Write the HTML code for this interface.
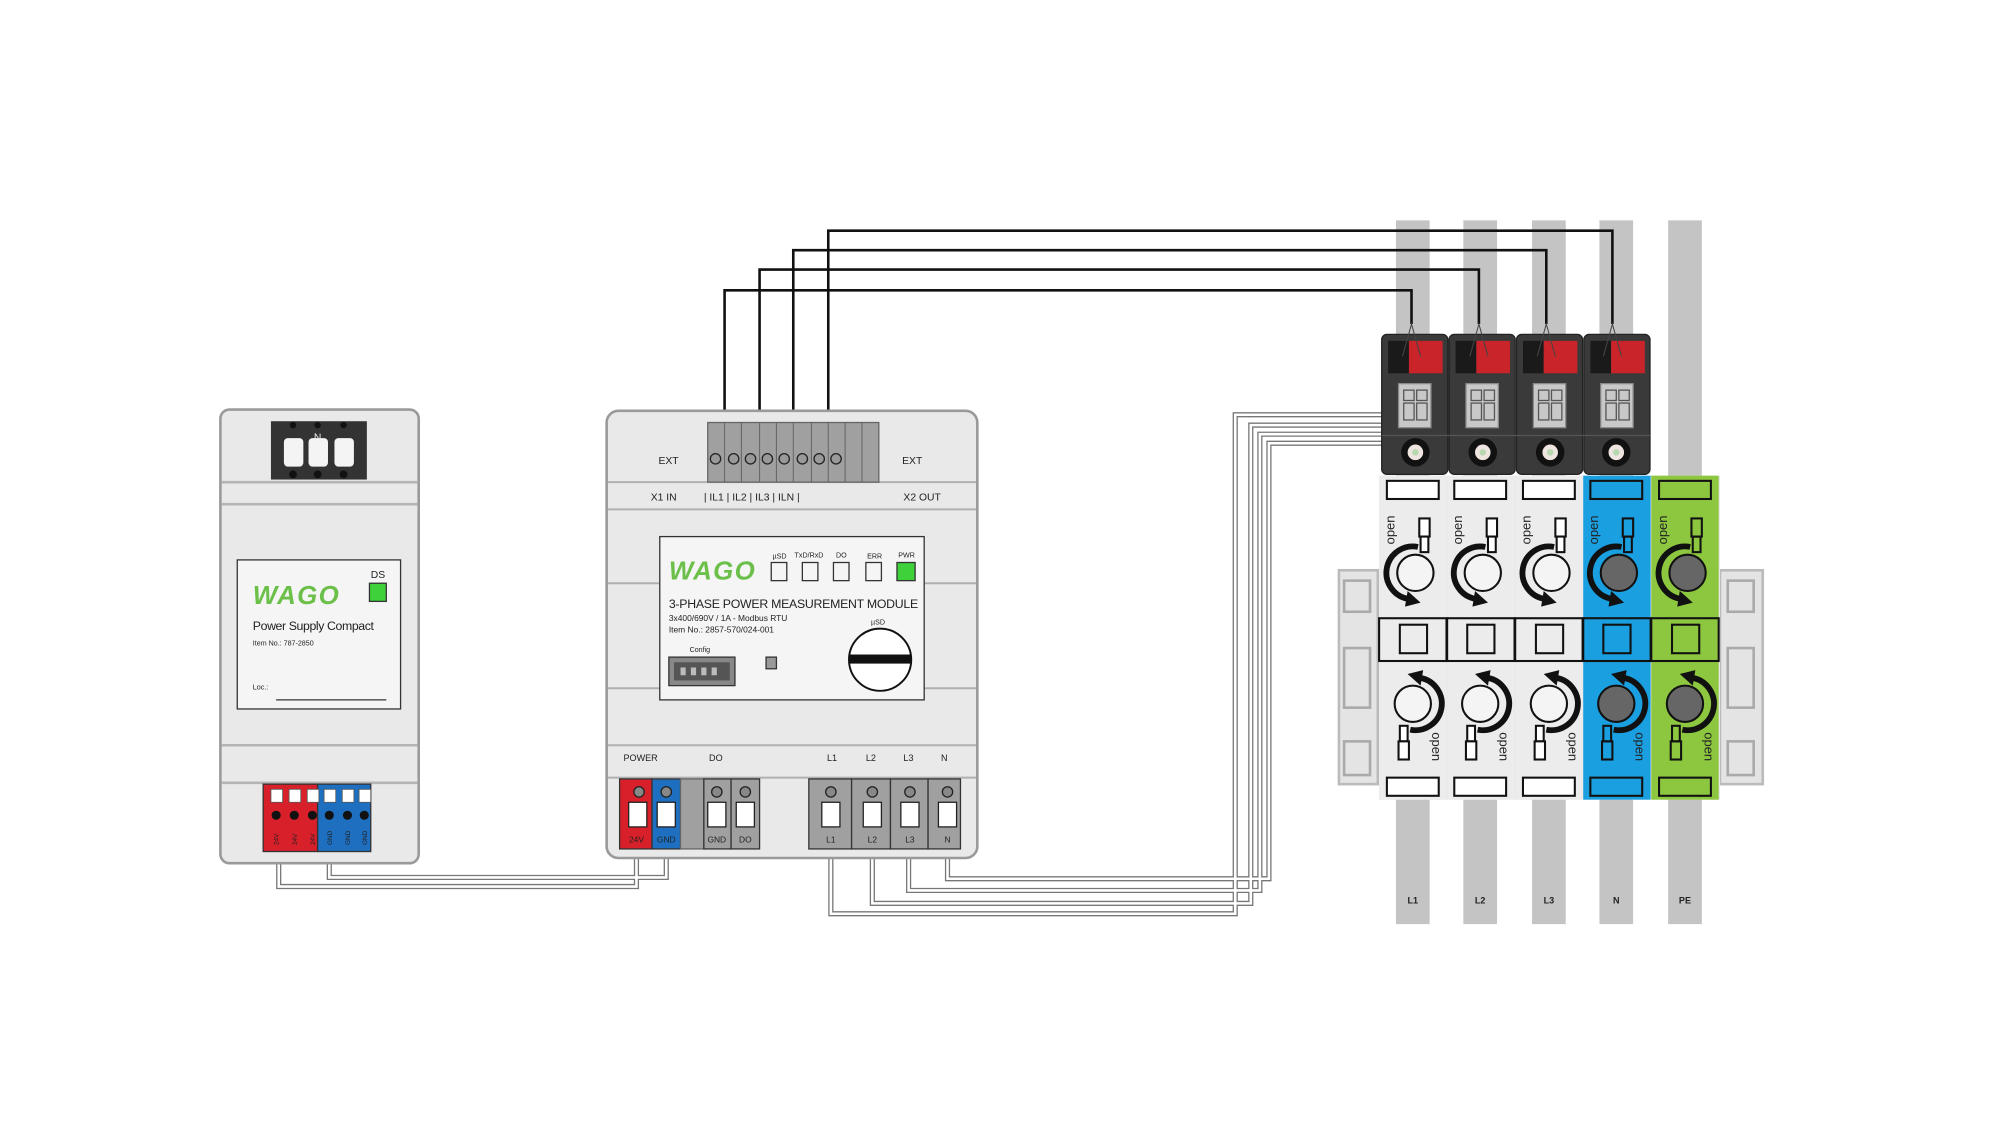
<!DOCTYPE html>
<html><head><meta charset="utf-8"><style>
html,body{margin:0;padding:0;background:#fff;}
svg{display:block;}
text{font-family:"Liberation Sans",Arial,sans-serif;fill:#222;}
</style></head><body>
<svg width="2000" height="1125" viewBox="0 0 1543 868" xmlns="http://www.w3.org/2000/svg">
<rect width="1543" height="868" fill="#fff"/>

<!-- Rails -->
<g fill="#c4c4c4">
<rect x="1077" y="170" width="26" height="543"/>
<rect x="1129" y="170" width="26" height="543"/>
<rect x="1182" y="170" width="26" height="543"/>
<rect x="1234" y="170" width="26" height="543"/>
<rect x="1287" y="170" width="26" height="543"/>
</g>
<g font-size="7" font-weight="bold" text-anchor="middle">
<text x="1090" y="697">L1</text><text x="1142" y="697">L2</text><text x="1195" y="697">L3</text><text x="1247" y="697">N</text><text x="1300" y="697">PE</text>
</g>

<!-- Gray double wires -->
<g fill="none" stroke="#777" stroke-width="4" stroke-linejoin="miter">
<polyline points="215,657 215,684 491,684 491,655"/>
<polyline points="254,657 254,677 514,677 514,655"/>
<polyline points="641,655 641,705 953,705 953,320 1090,320"/>
<polyline points="673,655 673,697 965,697 965,328 1090,328"/>
<polyline points="701,655 701,687 972,687 972,335 1090,335"/>
<polyline points="731,655 731,678 979,678 979,342 1090,342"/>
</g>
<g fill="none" stroke="#fff" stroke-width="2">
<polyline points="215,657 215,684 491,684 491,655"/>
<polyline points="254,657 254,677 514,677 514,655"/>
<polyline points="641,655 641,705 953,705 953,320 1090,320"/>
<polyline points="673,655 673,697 965,697 965,328 1090,328"/>
<polyline points="701,655 701,687 972,687 972,335 1090,335"/>
<polyline points="731,655 731,678 979,678 979,342 1090,342"/>
</g>

<!-- End plates -->
<g fill="#e4e4e4" stroke="#bbb" stroke-width="2">
<rect x="1033" y="440" width="30" height="165"/>
<rect x="1327" y="440" width="33" height="165"/>
</g>
<g fill="none" stroke="#aaa" stroke-width="2">
<rect x="1037" y="448" width="20" height="24"/><rect x="1037" y="500" width="20" height="46"/><rect x="1037" y="572" width="20" height="26"/>
<rect x="1333" y="448" width="20" height="24"/><rect x="1333" y="500" width="20" height="46"/><rect x="1333" y="572" width="20" height="26"/>
</g>

<!-- Terminal blocks -->
<g id="tb">
<rect x="1064" y="367" width="263" height="250" fill="#e6e6e6"/>
<rect x="1064" y="367" width="52" height="250" fill="#ececec"/>
<rect x="1116.5" y="367" width="52" height="250" fill="#ececec"/>
<rect x="1169" y="367" width="52" height="250" fill="#ececec"/>
<rect x="1221.5" y="367" width="52" height="250" fill="#1a9fe0"/>
<rect x="1274" y="367" width="52" height="250" fill="#8dc63f"/>
</g>
<g stroke="#111" stroke-width="1.6" fill="none">
<!-- slots & bands -->
<rect x="1070" y="371" width="40" height="14" fill="#fff"/>
<rect x="1122" y="371" width="40" height="14" fill="#fff"/>
<rect x="1175" y="371" width="40" height="14" fill="#fff"/>
<rect x="1227" y="371" width="40" height="14"/>
<rect x="1280" y="371" width="40" height="14"/>
<rect x="1070" y="600" width="40" height="14" fill="#fff"/>
<rect x="1122" y="600" width="40" height="14" fill="#fff"/>
<rect x="1175" y="600" width="40" height="14" fill="#fff"/>
<rect x="1227" y="600" width="40" height="14"/>
<rect x="1280" y="600" width="40" height="14"/>
<rect x="1064" y="477" width="52" height="33"/><rect x="1116.5" y="477" width="52" height="33"/><rect x="1169" y="477" width="52" height="33"/><rect x="1221.5" y="477" width="52" height="33"/><rect x="1274" y="477" width="52" height="33"/>
<rect x="1080" y="482" width="21" height="22"/><rect x="1132" y="482" width="21" height="22"/><rect x="1185" y="482" width="21" height="22"/><rect x="1237" y="482" width="21" height="22"/><rect x="1290" y="482" width="21" height="22"/>
<!-- circles -->
<circle cx="1092" cy="442" r="14" fill="#f4f4f4"/><circle cx="1144" cy="442" r="14" fill="#f4f4f4"/><circle cx="1197" cy="442" r="14" fill="#f4f4f4"/><circle cx="1249" cy="442" r="14" fill="#666"/><circle cx="1302" cy="442" r="14" fill="#666"/>
<circle cx="1090" cy="543" r="14" fill="#f4f4f4"/><circle cx="1142" cy="543" r="14" fill="#f4f4f4"/><circle cx="1195" cy="543" r="14" fill="#f4f4f4"/><circle cx="1247" cy="543" r="14" fill="#666"/><circle cx="1300" cy="543" r="14" fill="#666"/>
<!-- cable ends -->
<rect x="1095" y="400" width="8" height="14" fill="#fff"/><rect x="1096" y="414" width="6" height="12" fill="#fff"/>
<rect x="1147" y="400" width="8" height="14" fill="#fff"/><rect x="1148" y="414" width="6" height="12" fill="#fff"/>
<rect x="1200" y="400" width="8" height="14" fill="#fff"/><rect x="1201" y="414" width="6" height="12" fill="#fff"/>
<rect x="1252" y="400" width="8" height="14"/><rect x="1253" y="414" width="6" height="12"/>
<rect x="1305" y="400" width="8" height="14"/><rect x="1306" y="414" width="6" height="12"/>
<rect x="1080" y="560" width="6" height="12" fill="#fff"/><rect x="1079" y="572" width="8" height="14" fill="#fff"/>
<rect x="1132" y="560" width="6" height="12" fill="#fff"/><rect x="1131" y="572" width="8" height="14" fill="#fff"/>
<rect x="1185" y="560" width="6" height="12" fill="#fff"/><rect x="1184" y="572" width="8" height="14" fill="#fff"/>
<rect x="1237" y="560" width="6" height="12"/><rect x="1236" y="572" width="8" height="14"/>
<rect x="1290" y="560" width="6" height="12"/><rect x="1289" y="572" width="8" height="14"/>
</g>
<!-- arrows -->
<g fill="none" stroke="#111" stroke-width="4.5">
<path d="M1094 422 A20 20 0 0 0 1086 462"/><path d="M1146 422 A20 20 0 0 0 1138 462"/><path d="M1199 422 A20 20 0 0 0 1191 462"/><path d="M1251 422 A20 20 0 0 0 1243 462"/><path d="M1304 422 A20 20 0 0 0 1296 462"/>
<path d="M1096 523 A20 20 0 0 1 1088 563"/><path d="M1148 523 A20 20 0 0 1 1140 563"/><path d="M1201 523 A20 20 0 0 1 1193 563"/><path d="M1253 523 A20 20 0 0 1 1245 563"/><path d="M1306 523 A20 20 0 0 1 1298 563"/>
</g>
<g fill="#111">
<polygon points="1086,456 1096,465 1084,468"/><polygon points="1138,456 1148,465 1136,468"/><polygon points="1191,456 1201,465 1189,468"/><polygon points="1243,456 1253,465 1241,468"/><polygon points="1296,456 1306,465 1294,468"/>
<polygon points="1096,529 1086,520 1098,517"/><polygon points="1148,529 1138,520 1150,517"/><polygon points="1201,529 1191,520 1203,517"/><polygon points="1253,529 1243,520 1255,517"/><polygon points="1306,529 1296,520 1308,517"/>
</g>
<g font-size="10">
<text transform="translate(1076,420) rotate(-90)">open</text>
<text transform="translate(1128,420) rotate(-90)">open</text>
<text transform="translate(1181,420) rotate(-90)">open</text>
<text transform="translate(1233,420) rotate(-90)">open</text>
<text transform="translate(1286,420) rotate(-90)">open</text>
<text transform="translate(1105,565) rotate(90)">open</text>
<text transform="translate(1157,565) rotate(90)">open</text>
<text transform="translate(1210,565) rotate(90)">open</text>
<text transform="translate(1262,565) rotate(90)">open</text>
<text transform="translate(1315,565) rotate(90)">open</text>
</g>

<!-- CT sensors -->
<g>
<rect x="1066" y="258" width="51" height="108" rx="4" fill="#3a3a3a" stroke="#222"/>
<rect x="1118" y="258" width="51" height="108" rx="4" fill="#3a3a3a" stroke="#222"/>
<rect x="1170" y="258" width="51" height="108" rx="4" fill="#3a3a3a" stroke="#222"/>
<rect x="1222" y="258" width="51" height="108" rx="4" fill="#3a3a3a" stroke="#222"/>
</g>
<g fill="#1a1a1a"><rect x="1071" y="263" width="16" height="25"/><rect x="1123" y="263" width="16" height="25"/><rect x="1175" y="263" width="16" height="25"/><rect x="1227" y="263" width="16" height="25"/></g>
<g fill="#c8242a"><rect x="1087" y="263" width="26" height="25"/><rect x="1139" y="263" width="26" height="25"/><rect x="1191" y="263" width="26" height="25"/><rect x="1243" y="263" width="26" height="25"/></g>
<g fill="#c8c8c8" stroke="#888"><rect x="1079" y="296" width="25" height="34"/><rect x="1131" y="296" width="25" height="34"/><rect x="1183" y="296" width="25" height="34"/><rect x="1235" y="296" width="25" height="34"/></g>
<g fill="none" stroke="#555"><rect x="1083" y="301" width="8" height="8"/><rect x="1093" y="301" width="8" height="8"/><rect x="1083" y="311" width="8" height="13"/><rect x="1093" y="311" width="8" height="13"/>
<rect x="1135" y="301" width="8" height="8"/><rect x="1145" y="301" width="8" height="8"/><rect x="1135" y="311" width="8" height="13"/><rect x="1145" y="311" width="8" height="13"/>
<rect x="1187" y="301" width="8" height="8"/><rect x="1197" y="301" width="8" height="8"/><rect x="1187" y="311" width="8" height="13"/><rect x="1197" y="311" width="8" height="13"/>
<rect x="1239" y="301" width="8" height="8"/><rect x="1249" y="301" width="8" height="8"/><rect x="1239" y="311" width="8" height="13"/><rect x="1249" y="311" width="8" height="13"/>
<line x1="1066" y1="336" x2="1273" y2="336"/></g>
<g fill="#111"><circle cx="1092" cy="349" r="11"/><circle cx="1144" cy="349" r="11"/><circle cx="1196" cy="349" r="11"/><circle cx="1247" cy="349" r="11"/></g>
<g fill="#eee5e0"><circle cx="1092" cy="349" r="6"/><circle cx="1144" cy="349" r="6"/><circle cx="1196" cy="349" r="6"/><circle cx="1247" cy="349" r="6"/></g>
<g fill="#b8d8b0"><circle cx="1092" cy="349" r="2.5"/><circle cx="1144" cy="349" r="2.5"/><circle cx="1196" cy="349" r="2.5"/><circle cx="1247" cy="349" r="2.5"/></g>

<!-- Black signal wires -->
<g fill="none" stroke="#111" stroke-width="2">
<polyline points="559,354 559,224 1089,224 1089,250"/>
<polyline points="586,354 586,208 1141,208 1141,250"/>
<polyline points="612,354 612,193 1193,193 1193,250"/>
<polyline points="639,354 639,178 1244,178 1244,250"/>
</g>
<g fill="none" stroke="#444" stroke-width="0.8">
<polyline points="1082,275 1089,250 1096,275"/><polyline points="1134,275 1141,250 1148,275"/><polyline points="1186,275 1193,250 1200,275"/><polyline points="1237,275 1244,250 1251,275"/>
</g>

<!-- PSU -->
<rect x="170" y="316" width="153" height="350" rx="7" fill="#e9e9e9" stroke="#9a9a9a" stroke-width="2"/>
<g stroke="#b5b5b5" stroke-width="2"><line x1="171" y1="372" x2="322" y2="372"/><line x1="171" y1="389" x2="322" y2="389"/><line x1="171" y1="575" x2="322" y2="575"/><line x1="171" y1="604" x2="322" y2="604"/></g>
<rect x="209" y="325" width="74" height="45" fill="#333"/>
<g fill="#f4f4f4"><rect x="219" y="338" width="15" height="22" rx="3"/><rect x="238" y="338" width="15" height="22" rx="3"/><rect x="258" y="338" width="15" height="22" rx="3"/></g>
<g fill="#111"><circle cx="226" cy="328" r="2.5"/><circle cx="245" cy="328" r="2.5"/><circle cx="265" cy="328" r="2.5"/><circle cx="226" cy="366" r="3"/><circle cx="245" cy="366" r="3"/><circle cx="265" cy="366" r="3"/></g>
<text x="245" y="340" font-size="8" text-anchor="middle" fill="#eee" style="fill:#eee">N</text>
<rect x="183" y="432" width="126" height="115" fill="#f5f5f5" stroke="#333"/>
<text x="195" y="466" font-size="20" font-weight="bold" font-style="italic" style="fill:#6cc04a" letter-spacing="1">WAGO</text>
<text x="286" y="446" font-size="8">DS</text>
<rect x="285" y="450" width="13" height="14" fill="#3ed13a" stroke="#333"/>
<text x="195" y="486" font-size="9.5" letter-spacing="-0.3">Power Supply Compact</text>
<text x="195" y="498" font-size="5.5">Item No.: 787-2850</text>
<text x="195" y="532" font-size="5.5">Loc.:</text>
<line x1="213" y1="540" x2="298" y2="540" stroke="#333"/>
<rect x="203" y="605" width="42" height="52" fill="#d7202a" stroke="#333"/>
<rect x="245" y="605" width="41" height="52" fill="#1e6fbf" stroke="#333"/>
<g fill="#fff" stroke="#555" stroke-width="0.6">
<rect x="209" y="609" width="9" height="10"/><rect x="223" y="609" width="9" height="10"/><rect x="237" y="609" width="9" height="10"/><rect x="250" y="609" width="9" height="10"/><rect x="264" y="609" width="9" height="10"/><rect x="277" y="609" width="9" height="10"/>
</g>
<g fill="#111"><circle cx="213" cy="629" r="3.5"/><circle cx="227" cy="629" r="3.5"/><circle cx="241" cy="629" r="3.5"/><circle cx="254" cy="629" r="3.5"/><circle cx="268" cy="629" r="3.5"/><circle cx="281" cy="629" r="3.5"/></g>
<g font-size="5" style="fill:#222">
<text transform="translate(215,652) rotate(-90)">24V</text><text transform="translate(229,652) rotate(-90)">24V</text><text transform="translate(243,652) rotate(-90)">24V</text><text transform="translate(256,652) rotate(-90)">GND</text><text transform="translate(270,652) rotate(-90)">GND</text><text transform="translate(283,652) rotate(-90)">GND</text>
</g>

<!-- Module -->
<rect x="468" y="317" width="286" height="345" rx="9" fill="#e9e9e9" stroke="#9a9a9a" stroke-width="2"/>
<g stroke="#b0b0b0" stroke-width="1.5">
<line x1="469" y1="372" x2="753" y2="372"/><line x1="469" y1="393" x2="753" y2="393"/>
<line x1="469" y1="450" x2="509" y2="450"/><line x1="713" y1="450" x2="753" y2="450"/>
<line x1="469" y1="531" x2="509" y2="531"/><line x1="713" y1="531" x2="753" y2="531"/>
<line x1="469" y1="575" x2="753" y2="575"/><line x1="469" y1="600" x2="753" y2="600"/>
</g>
<rect x="546" y="326" width="132" height="46" fill="#a0a0a0" stroke="#666"/>
<g stroke="#666" stroke-width="0.8"><line x1="559" y1="326" x2="559" y2="372"/><line x1="572" y1="326" x2="572" y2="372"/><line x1="586" y1="326" x2="586" y2="372"/><line x1="599" y1="326" x2="599" y2="372"/><line x1="612" y1="326" x2="612" y2="372"/><line x1="626" y1="326" x2="626" y2="372"/><line x1="639" y1="326" x2="639" y2="372"/><line x1="652" y1="326" x2="652" y2="372"/><line x1="665" y1="326" x2="665" y2="372"/></g>
<g fill="#999" stroke="#222" stroke-width="1"><circle cx="552" cy="354" r="4"/><circle cx="566" cy="354" r="4"/><circle cx="579" cy="354" r="4"/><circle cx="592" cy="354" r="4"/><circle cx="605" cy="354" r="4"/><circle cx="619" cy="354" r="4"/><circle cx="632" cy="354" r="4"/><circle cx="645" cy="354" r="4"/></g>
<g font-size="8"><text x="508" y="358">EXT</text><text x="696" y="358">EXT</text>
<text x="502" y="386">X1 IN</text><text x="543" y="386">| IL1 | IL2 | IL3 | ILN |</text><text x="697" y="386">X2 OUT</text></g>
<rect x="509" y="414" width="204" height="126" fill="#f5f5f5" stroke="#333"/>
<text x="516" y="447" font-size="20" font-weight="bold" font-style="italic" style="fill:#6cc04a" letter-spacing="1">WAGO</text>
<g fill="none" stroke="#333"><rect x="595" y="434" width="12" height="14"/><rect x="619" y="434" width="12" height="14"/><rect x="643" y="434" width="12" height="14"/><rect x="668" y="434" width="12" height="14"/></g>
<rect x="692" y="434" width="14" height="14" fill="#3ed13a" stroke="#333"/>
<g font-size="5.5"><text x="596" y="431">µSD</text><text x="613" y="430">TxD/RxD</text><text x="645" y="430">DO</text><text x="669" y="431">ERR</text><text x="693" y="430">PWR</text></g>
<text x="516" y="469" font-size="9.5" letter-spacing="-0.2">3-PHASE POWER MEASUREMENT MODULE</text>
<text x="516" y="479" font-size="6.5">3x400/690V / 1A - Modbus RTU</text>
<text x="516" y="488" font-size="6.5">Item No.: 2857-570/024-001</text>
<text x="532" y="503" font-size="5.5">Config</text>
<rect x="516" y="507" width="51" height="22" fill="#888" stroke="#333"/>
<rect x="520" y="511" width="43" height="14" fill="#555"/>
<g fill="#bbb"><rect x="525" y="515" width="4" height="6"/><rect x="533" y="515" width="4" height="6"/><rect x="541" y="515" width="4" height="6"/><rect x="549" y="515" width="4" height="6"/></g>
<rect x="591" y="507" width="8" height="9" fill="#999" stroke="#333"/>
<text x="672" y="482" font-size="5.5">µSD</text>
<circle cx="679" cy="509" r="24" fill="#fff" stroke="#111" stroke-width="1.5"/>
<rect x="655" y="505" width="48" height="7" fill="#111"/>
<g font-size="7"><text x="481" y="587">POWER</text><text x="547" y="587">DO</text><text x="638" y="587">L1</text><text x="668" y="587">L2</text><text x="697" y="587">L3</text><text x="726" y="587">N</text></g>
<rect x="478" y="601" width="25" height="54" fill="#d7202a" stroke="#333"/>
<rect x="503" y="601" width="22" height="54" fill="#1e6fbf" stroke="#333"/>
<rect x="525" y="601" width="18" height="54" fill="#a0a0a0" stroke="#666"/>
<rect x="543" y="601" width="21" height="54" fill="#a0a0a0" stroke="#333"/>
<rect x="564" y="601" width="22" height="54" fill="#a0a0a0" stroke="#333"/>
<rect x="624" y="601" width="33" height="54" fill="#a0a0a0" stroke="#333"/>
<rect x="657" y="601" width="30" height="54" fill="#a0a0a0" stroke="#333"/>
<rect x="687" y="601" width="29" height="54" fill="#a0a0a0" stroke="#333"/>
<rect x="716" y="601" width="25" height="54" fill="#a0a0a0" stroke="#333"/>
<g fill="#888" stroke="#222"><circle cx="493" cy="611" r="4"/><circle cx="514" cy="611" r="4"/><circle cx="553" cy="611" r="4"/><circle cx="575" cy="611" r="4"/><circle cx="641" cy="611" r="4"/><circle cx="673" cy="611" r="4"/><circle cx="702" cy="611" r="4"/><circle cx="731" cy="611" r="4"/></g>
<g fill="#fff" stroke="#222"><rect x="485" y="619" width="14" height="19"/><rect x="507" y="619" width="14" height="19"/><rect x="546" y="619" width="14" height="19"/><rect x="568" y="619" width="14" height="19"/><rect x="634" y="619" width="14" height="19"/><rect x="666" y="619" width="14" height="19"/><rect x="695" y="619" width="14" height="19"/><rect x="724" y="619" width="14" height="19"/></g>
<g font-size="6.5" text-anchor="middle"><text x="491" y="650">24V</text><text x="514" y="650">GND</text><text x="553" y="650">GND</text><text x="575" y="650">DO</text><text x="641" y="650">L1</text><text x="673" y="650">L2</text><text x="702" y="650">L3</text><text x="731" y="650">N</text></g>
</svg>
</body></html>
